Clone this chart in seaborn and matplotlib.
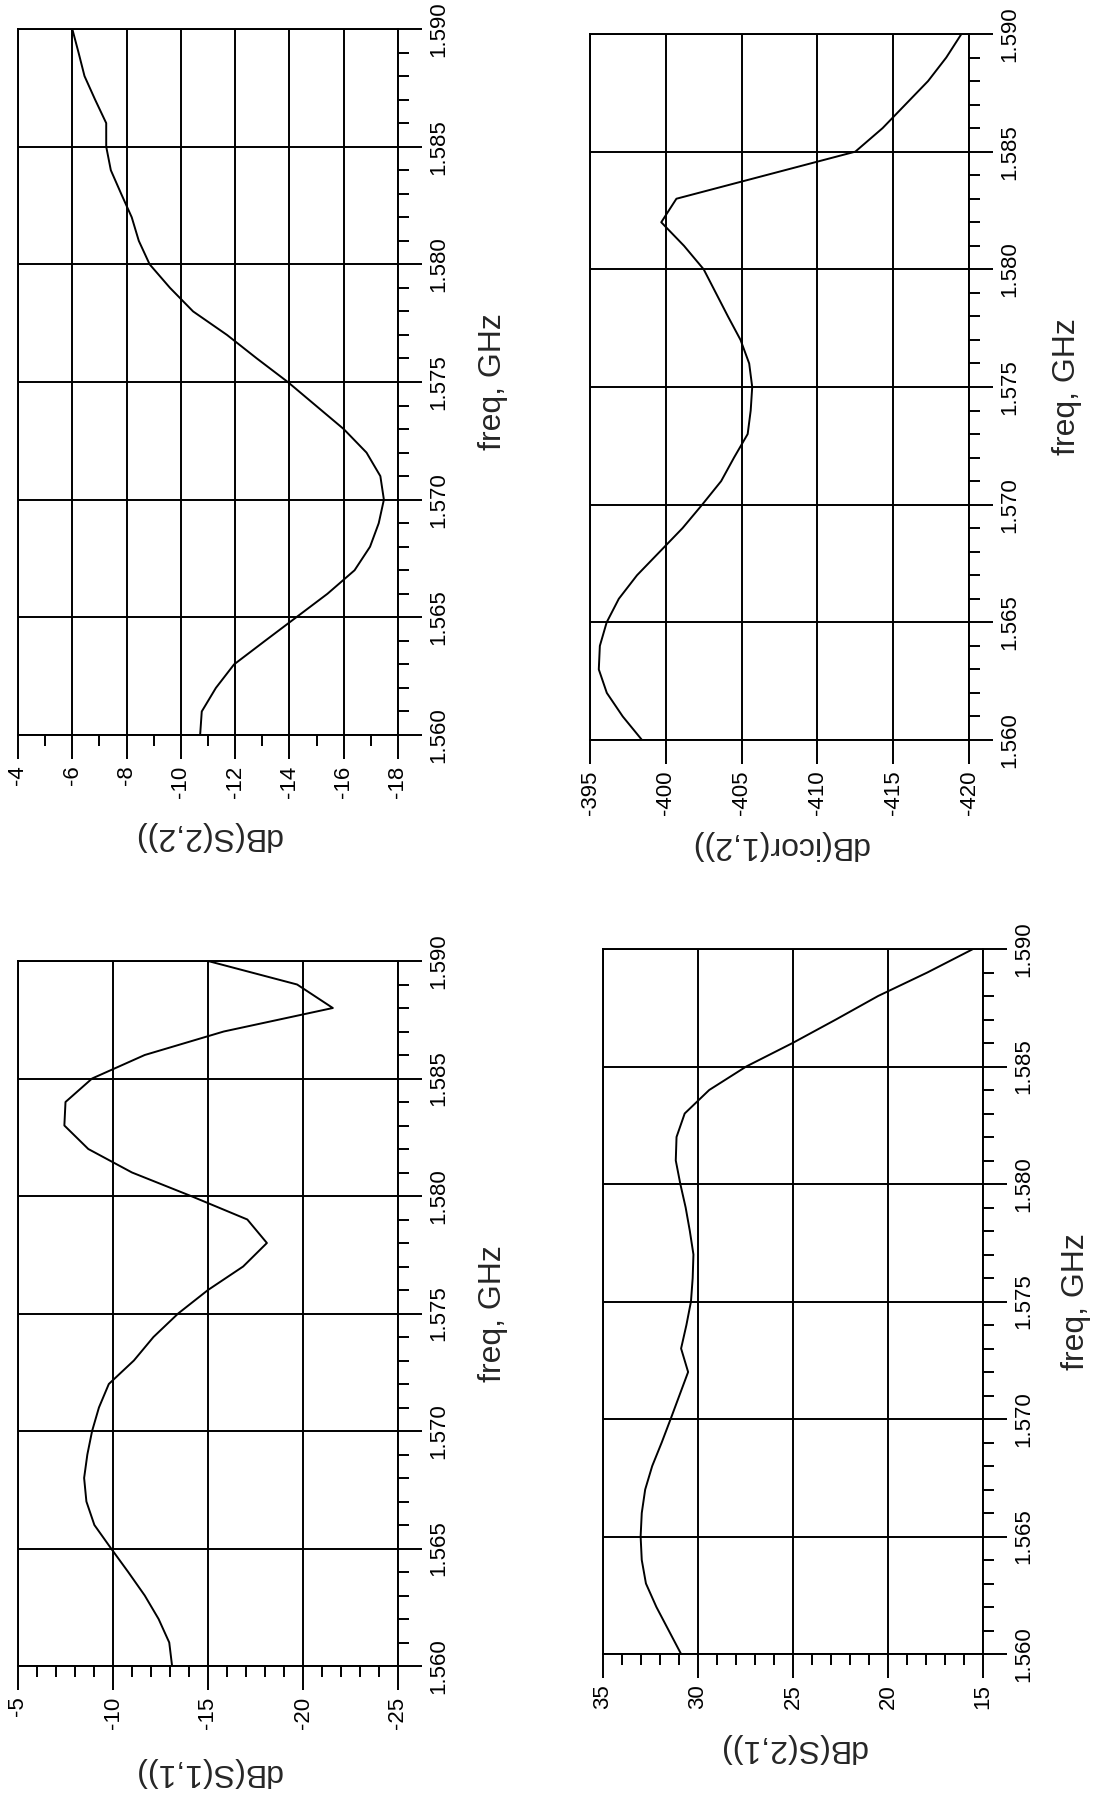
import matplotlib
matplotlib.use("Agg")
import matplotlib.pyplot as plt
import seaborn as sns
import pandas as pd
from matplotlib.ticker import MultipleLocator, FormatStrFormatter

# ---------------- data ----------------
freq_ghz = [1.560, 1.561, 1.562, 1.563, 1.564, 1.565, 1.566, 1.567, 1.568, 1.569,
            1.570, 1.571, 1.572, 1.573, 1.574, 1.575, 1.576, 1.577, 1.578, 1.579,
            1.580, 1.581, 1.582, 1.583, 1.584, 1.585, 1.586, 1.587, 1.588, 1.589,
            1.590]

s22_db = [-10.71, -10.77, -11.29, -11.96, -13.10, -14.25, -15.40, -16.40, -16.97, -17.29,
          -17.48, -17.35, -16.84, -16.00, -14.97, -13.94, -12.80, -11.70, -10.45, -9.60,
          -8.85, -8.45, -8.19, -7.80, -7.42, -7.25, -7.25, -6.84, -6.45, -6.23,
          -6.00]

icor12_db = [-398.43, -397.16, -396.11, -395.58, -395.65, -396.10, -396.90, -398.10, -399.60, -401.10,
             -402.40, -403.65, -404.50, -405.40, -405.60, -405.70, -405.50, -404.93, -404.10, -403.30,
             -402.50, -401.20, -399.70, -400.70, -406.60, -412.50, -414.30, -415.80, -417.30, -418.50,
             -419.50]

s11_db = [-13.11, -12.96, -12.40, -11.67, -10.80, -9.90, -9.02, -8.60, -8.48, -8.65,
          -8.90, -9.26, -9.78, -11.10, -12.13, -13.43, -15.00, -16.85, -18.10, -17.07,
          -14.10, -11.00, -8.70, -7.44, -7.50, -8.90, -11.67, -15.83, -21.57, -19.69,
          -15.00]

s21_db = [30.89, 31.54, 32.19, 32.74, 32.96, 33.02, 32.96, 32.78, 32.41, 31.91,
          31.44, 30.98, 30.52, 30.89, 30.61, 30.37, 30.28, 30.24, 30.43, 30.65,
          30.93, 31.17, 31.13, 30.70, 29.41, 27.46, 25.02, 22.74, 20.52, 17.93,
          15.52]

freq_label = "freq, GHz"
db_labels = ["dB(S(2,2))", "dB(icor(1,2))", "dB(S(1,1))", "dB(S(2,1))"]
db_limits = [(-4, -18), (-395, -420), (-5, -25), (35, 15)]
db_major = [2, 5, 5, 5]
db_minor = [1, None, 1, 1]

# ---------------- style ----------------
sns.set_style("white")
plt.rcParams["font.family"] = ["Liberation Sans", "DejaVu Sans"]

W, H = 1102, 1794
fig = plt.figure(figsize=(W / 100, H / 100), dpi=100)

# panel boxes in pixels (x0, y0, x1, y1) and label offsets (px)
boxes = [(18, 29, 398, 735), (590, 34, 969, 740), (18, 961, 398, 1666), (603, 949, 983, 1654)]
xlab_off = [101, 105, 106, 94]
ylab_off = [95, 98, 95, 93]
series = [s22_db, icor12_db, s11_db, s21_db]

LW = 1.4
for i in range(4):
    x0, y0, x1, y1 = boxes[i]
    ax = fig.add_axes([x0 / W, 1 - y1 / H, (x1 - x0) / W, (y1 - y0) / H])
    df = pd.DataFrame({"freq": freq_ghz, "db": series[i]})
    sns.lineplot(data=df, x="db", y="freq", orient="y", sort=False, estimator=None,
                 color="black", lw=LW, ax=ax)
    ax.set_xlim(*db_limits[i])
    ax.set_ylim(1.560, 1.590)

    ax.xaxis.set_major_locator(MultipleLocator(db_major[i]))
    if db_minor[i]:
        ax.xaxis.set_minor_locator(MultipleLocator(db_minor[i]))
    ax.xaxis.set_major_formatter(FormatStrFormatter("%d"))
    ax.yaxis.set_major_locator(MultipleLocator(0.005))
    ax.yaxis.set_minor_locator(MultipleLocator(0.001))
    ax.yaxis.set_major_formatter(FormatStrFormatter("%.3f"))
    ax.yaxis.tick_right()

    ax.tick_params(axis="both", which="major", direction="out", length=17, width=LW,
                   labelsize=16, pad=5, color="black", labelcolor="black")
    ax.tick_params(axis="both", which="minor", direction="out", length=8, width=LW, color="black")
    ax.tick_params(axis="x", which="both", bottom=True, top=False, labelrotation=90)
    ax.tick_params(axis="y", which="both", right=True, left=False, labelrotation=90)
    for lbl in ax.get_yticklabels():
        lbl.set_va("center")

    ax.grid(True, which="major", color="black", lw=LW)
    for sp in ax.spines.values():
        sp.set_visible(True)
        sp.set_color("black")
        sp.set_linewidth(LW)

    ax.set_xlabel("")
    ax.set_ylabel("")
    w, h = x1 - x0, y1 - y0
    ax.text(0.5, -xlab_off[i] / h, db_labels[i], rotation=180, ha="center", va="center",
            fontsize=23, transform=ax.transAxes)
    ax.text(1 + ylab_off[i] / w, 0.5, freq_label, rotation=90, ha="center", va="center",
            fontsize=23, transform=ax.transAxes)

fig.savefig("out.png", dpi=100, facecolor="white")
